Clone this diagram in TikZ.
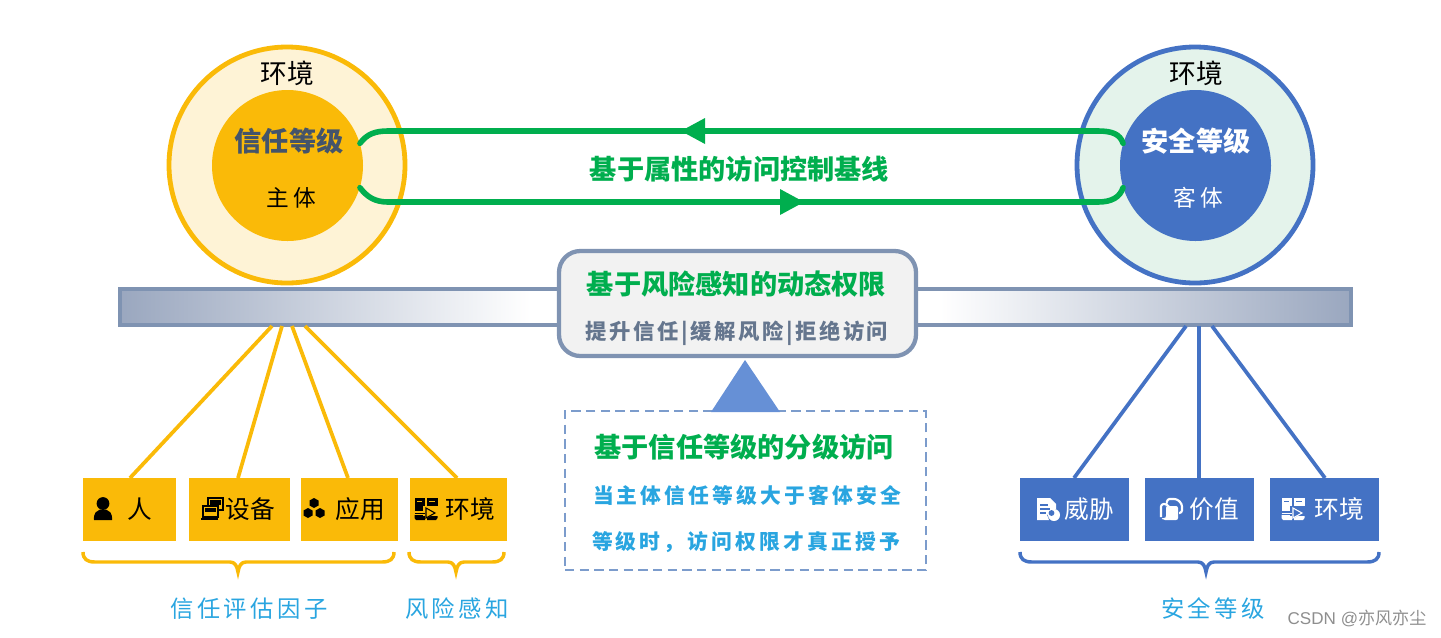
\documentclass[tikz,border=0pt]{standalone}
\usepackage{fontspec}
\setmainfont{Noto Sans CJK SC}
\newfontfamily\latinfont{Liberation Sans}
\newcommand{\spc}[1]{\addfontfeature{LetterSpace=#1}}
\definecolor{cyellow}{HTML}{FABA08}
\definecolor{cpale}{HTML}{FEF3D6}
\definecolor{cblue}{HTML}{4472C4}
\definecolor{cmint}{HTML}{E4F3EB}
\definecolor{cgreen}{HTML}{00AE4E}
\definecolor{cslate}{HTML}{7F93B2}
\definecolor{csky}{HTML}{29A5E0}
\definecolor{cdark}{HTML}{44546A}
\definecolor{cbox}{HTML}{F2F2F2}
\definecolor{ctri}{HTML}{6690D6}
\definecolor{cdash}{HTML}{7C9CCC}
\definecolor{cbarend}{HTML}{9AA7BF}
\definecolor{cmark}{HTML}{8E8E8E}
\pgfdeclarehorizontalshading{barshade}{100bp}{color(0bp)=(cbarend); color(25bp)=(cbarend); color(41.7bp)=(white); color(58.3bp)=(white); color(75bp)=(cbarend); color(100bp)=(cbarend)}
\tikzset{
  x=0.75pt,y=-0.75pt,
  ring/.style={circle,inner sep=0pt,line width=3.6pt,minimum size=#1*0.75pt},
  core/.style={circle,inner sep=0pt,minimum size=151*0.75pt},
  tile/.style={rectangle,inner sep=0pt,minimum height=63*0.75pt,minimum width=#1*0.75pt},
  ytile/.style={tile=#1,fill=cyellow},
  btile/.style={tile=#1,fill=cblue},
  lab/.style={inner sep=0pt,font=\fontsize{18.5pt}{20pt}\selectfont},
  head/.style={inner sep=0pt,font=\fontsize{20.4pt}{22pt}\selectfont\bfseries},
  flow/.style={draw=cgreen,line width=4.2pt,line cap=round},
  yline/.style={draw=cyellow,line width=2.8pt},
  bline/.style={draw=cblue,line width=2.8pt},
  ybrace/.style={draw=cyellow,line width=2.6pt},
  bbrace/.style={draw=cblue,line width=2.6pt},
  skylab/.style={inner sep=0pt,text=csky,font=\fontsize{17.5pt}{19pt}\selectfont\spc{15}},
  skyline/.style={inner sep=0pt,text=csky,font=\fontsize{15.6pt}{17pt}\selectfont\bfseries\spc{15}}
}
\newcommand{\bracepath}[5]{% style, left, tip, right
  \draw[#1] (#2,552) .. controls (#2,559) and (#2+4,562) .. (#2+12,562) -- (#3-8,562)
    .. controls (#3-3,562) and (#3-1,566) .. (#3,572) .. controls (#3+1,566) and (#3+3,562) .. (#3+8,562)
    -- (#4-12,562) .. controls (#4-4,562) and (#4,559) .. (#4,552);}
\newcommand{\iconperson}[3]{\begin{scope}[shift={(#1,#2)}]
  \fill[#3] (0,-5.5) circle[radius=4.8pt];
  \fill[#3] (-9,11) .. controls (-9.5,3) and (-6,2) .. (-3,0.5) -- (3,0.5) .. controls (6,2) and (9.5,3) .. (9,11) -- cycle;
  \end{scope}}
\newcommand{\icondevice}[3]{\begin{scope}[shift={(#1,#2)}]
  \draw[#3,line width=1.1pt] (-4,-11) rectangle (11,1);
  \fill[#3] (-2,-9) rectangle (9,-4);
  \fill[cyellow] (-11,-3) rectangle (6,9);
  \draw[#3,line width=1.1pt] (-9,-3) rectangle (6,8);
  \fill[#3] (-7,-1) rectangle (4,3);
  \fill[#3] (-11,9) rectangle (6,11);
  \end{scope}}
\newcommand{\iconapps}[3]{\begin{scope}[shift={(#1,#2)}]
  \foreach \a/\b in {0/-5,-6/5,6/5}{
    \fill[#3] (\a-4.5,\b-2.5) -- (\a,\b-5) -- (\a+4.5,\b-2.5) -- (\a+4.5,\b+2.5) -- (\a,\b+5) -- (\a-4.5,\b+2.5) -- cycle;}
  \end{scope}}
\newcommand{\iconenv}[4]{\begin{scope}[shift={(#1,#2)}]
  \fill[#3] (-11.5,-11) rectangle (-1,2);
  \fill[#3] (1,-11) rectangle (11.5,2);
  \fill[#3] (-11.5,6) -- (-1,6) -- (-1,11) -- (-10,11) -- (-11.5,9) -- cycle;
  \fill[#3] (1,6) -- (11.5,6) -- (11.5,9) -- (10,11) -- (1,11) -- cycle;
  \fill[#4] (-9,-8) rectangle (-4,-7);
  \fill[#4] (3,-8) rectangle (9,-7);
  \fill[#4] (-3,-3) rectangle (11.5,7);
  \draw[#3,line width=.7pt] (-11.5,4) -- (3,4);
  \fill[#4] (-1,-2) -- (10,4) -- (-1,10) -- cycle;
  \draw[#3,line width=.8pt] (0,-1) -- (9,4) -- (0,9) -- cycle;
  \end{scope}}
\newcommand{\iconthreat}[3]{\begin{scope}[shift={(#1,#2)}]
  \fill[#3] (-11,-11) -- (2,-11) -- (8,-5) -- (8,0) -- (-1,6) -- (1,11) -- (-11,11) -- cycle;
  \fill[cblue] (-8,-5) rectangle (0,-3.5);
  \fill[cblue] (-8,-1) rectangle (2,0.5);
  \fill[cblue] (-8,3) rectangle (-2,4.5);
  \fill[#3] (6,6) circle[radius=4.5pt];
  \fill[cblue] (3.5,4) circle[radius=2.2pt];
  \end{scope}}
\newcommand{\iconfolder}[3]{\begin{scope}[shift={(#1,#2)}]
  \draw[#3,line width=1.6pt,rounded corners=2pt] (-4,-8) -- (-4,-10) -- (6,-10) -- (11,-5) -- (11,4) -- (8,4);
  \draw[#3,line width=1.6pt,rounded corners=2pt] (-10,8) -- (-10,-5) -- (-4,-5) -- (-2,-2);
  \fill[#3,rounded corners=1.5pt] (-5,-3) -- (7,-3) -- (7,11) -- (-8,11) -- (-10,9) -- (-5,9) -- cycle;
  \end{scope}}
\begin{document}
\begin{tikzpicture}
\useasboundingbox (0,0) rectangle (1441,637);
% rings
\node[ring=236,draw=cyellow,fill=cpale] (lring) at (287,165) {};
\node[ring=236,draw=cblue,fill=cmint] (rring) at (1195,165) {};
\node[core,fill=cyellow] (lcore) at (287.5,165.5) {};
\node[core,fill=cblue] (rcore) at (1195.5,165.5) {};
\node[lab,font=\fontsize{20pt}{21pt}\selectfont] (lenv) at (287,73) {环境};
\node[lab,font=\fontsize{20pt}{21pt}\selectfont] (renv) at (1196,73) {环境};
\node[head,text=cdark] (ltitle) at (289,141) {信任等级};
\node[head,text=white] (rtitle) at (1196,141) {安全等级};
\node[lab,font=\fontsize{17pt}{18pt}\selectfont\spc{20}] (lsub) at (291,198) {主体};
\node[lab,text=white,font=\fontsize{17pt}{18pt}\selectfont\spc{20}] (rsub) at (1198,198) {客体};
% green loop
\draw[flow] (lcore.17) .. controls (367,134) and (375,131) .. (388,131) -- (1098,131) .. controls (1112,131) and (1120,134) .. (rcore.163);
\draw[flow] (lcore.-17) .. controls (367,197) and (375,202) .. (388,202) -- (1098,202) .. controls (1112,202) and (1120,197) .. (rcore.-163);
\fill[cgreen] (681,131) -- (705,118) -- (705,144) -- cycle;
\fill[cgreen] (804,202) -- (780,189) -- (780,215) -- cycle;
\node[head,text=cgreen] (base) at (739.5,169) {基于属性的访问控制基线};
% bar
\node[inner sep=0pt,draw=cslate,line width=3pt,shading=barshade,minimum width=1231*0.75pt,minimum height=36*0.75pt] (bar) at (735.5,306.5) {};
% connectors
\coordinate (y1t) at (272,326); \coordinate (y2t) at (282,326); \coordinate (y3t) at (292,326); \coordinate (y4t) at (305,326);
\coordinate (b1t) at (1186,326); \coordinate (b2t) at (1199,326); \coordinate (b3t) at (1212,326);
\coordinate (y1b) at (130,478); \coordinate (y2b) at (238,478); \coordinate (y3b) at (348,478); \coordinate (y4b) at (457,478);
\coordinate (b1b) at (1074,478); \coordinate (b2b) at (1199,478); \coordinate (b3b) at (1325,478);
\draw[yline] (y1t) -- (y1b); \draw[yline] (y2t) -- (y2b); \draw[yline] (y3t) -- (y3b); \draw[yline] (y4t) -- (y4b);
\draw[bline] (b1t) -- (b1b); \draw[bline] (b2t) -- (b2b); \draw[bline] (b3t) -- (b3b);
% tiles
\node[ytile=93] (t1) at (129.5,509.5) {};
\node[ytile=101] (t2) at (239.5,509.5) {};
\node[ytile=97] (t3) at (349.5,509.5) {};
\node[ytile=97] (t4) at (458.5,509.5) {};
\node[btile=109] (t5) at (1074.5,509.5) {};
\node[btile=109] (t6) at (1199.5,509.5) {};
\node[btile=109] (t7) at (1324.5,509.5) {};
\node[lab] (l1) at (140,509) {人};
\node[lab] (l2) at (250,509) {设备};
\node[lab] (l3) at (360,509) {应用};
\node[lab] (l4) at (470,509) {环境};
\node[lab,text=white] (l5) at (1089,509) {威胁};
\node[lab,text=white] (l6) at (1214,509) {价值};
\node[lab,text=white] (l7) at (1339,509) {环境};
\iconperson{103}{509}{black}
\icondevice{212}{509}{black}
\iconapps{314}{508}{black}
\iconenv{426}{509}{black}{cyellow}
\iconthreat{1048}{509}{white}
\iconfolder{1171}{509}{white}
\iconenv{1293}{509}{white}{cblue}
% braces
\bracepath{ybrace}{83}{238}{394}{}
\bracepath{ybrace}{409}{456}{504}{}
\bracepath{bbrace}{1020}{1206}{1379}{}
\node[skylab] (c1) at (249,609) {信任评估因子};
\node[skylab] (c2) at (457,609) {风险感知};
\node[skylab] (c3) at (1213,609) {安全等级};
% dashed box + triangle
\node[inner sep=0pt,draw=cdash,line width=1.5pt,dash pattern=on 7pt off 4pt,minimum width=361*0.75pt,minimum height=159*0.75pt] (dbox) at (745.5,490.5) {};
\coordinate (triL) at (711,412); \coordinate (triR) at (780,412); \coordinate (triA) at (745,360);
\fill[ctri] (triL) -- (triA) -- (triR) -- cycle;
% central box
\node[inner sep=0pt,draw=cslate,fill=cbox,line width=3.2pt,rounded corners=16pt,minimum width=357*0.75pt,minimum height=105*0.75pt] (cbox) at (737.5,303.5) {};
\node[head,text=cgreen] (ct) at (736.5,284) {基于风险感知的动态权限};
\node[inner sep=0pt,text=cslate!80!black,font=\fontsize{16pt}{18pt}\selectfont\bfseries\spc{12}] (cs) at (737,333) {提升信任|缓解风险|拒绝访问};
\node[head,text=cgreen] (dt) at (744,447) {基于信任等级的分级访问};
\node[skyline] (d1) at (747,496) {当主体信任等级大于客体安全};
\node[skyline] (d2) at (746,542) {等级时，访问权限才真正授予};
% watermark
\node[inner sep=0pt,text=cmark,font=\fontsize{12.8pt}{14pt}\selectfont] (wm) at (1357,618) {{\latinfont CSDN @}亦风亦尘};
\end{tikzpicture}
\end{document}
